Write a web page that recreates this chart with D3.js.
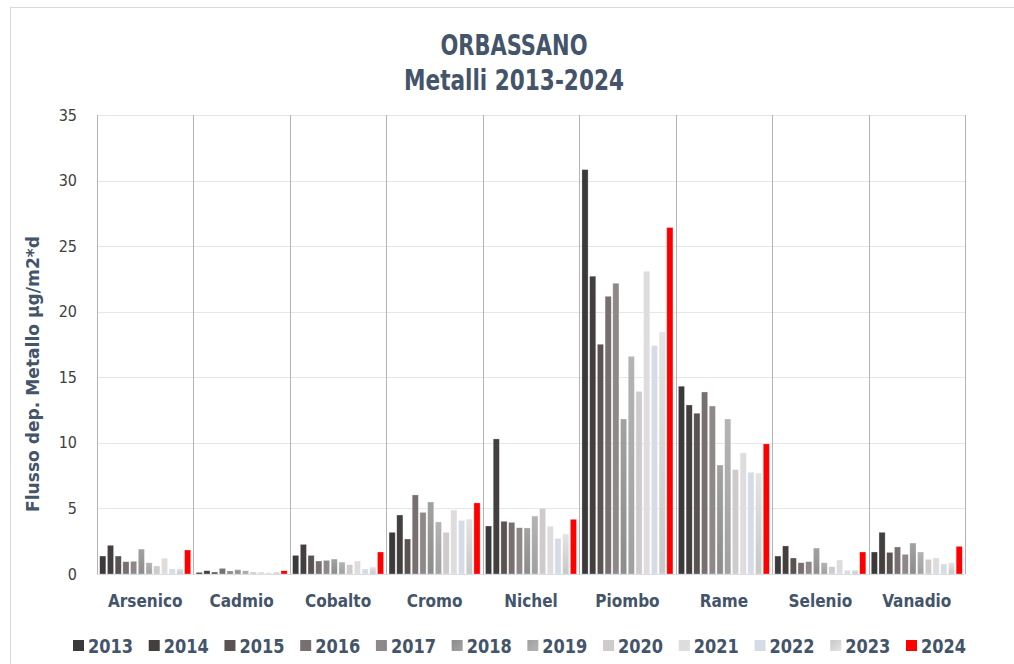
<!DOCTYPE html>
<html>
<head>
<meta charset="utf-8">
<script src="https://cdn.jsdelivr.net/npm/d3@7"></script>
<style>
  html, body { margin: 0; padding: 0; background: #fff; }
  svg { display: block; }
  .cond { font-family: "DejaVu Sans Condensed", "DejaVu Sans", sans-serif; }
</style>
</head>
<body>
<svg id="chart" width="1014" height="664"></svg>
<script>
// Metals categories and years
const categories = ["Arsenico", "Cadmio", "Cobalto", "Cromo", "Nichel", "Piombo", "Rame", "Selenio", "Vanadio"];
const years = ["2013", "2014", "2015", "2016", "2017", "2018", "2019", "2020", "2021", "2022", "2023", "2024"];
const yTicks = [0, 5, 10, 15, 20, 25, 30, 35];

// Deposition flux per year, one value per metal (same order as categories)
const v2013 = [1.37, 0.12, 1.42, 3.18, 3.66, 30.84, 14.32, 1.37, 1.68];
const v2014 = [2.19, 0.25, 2.26, 4.50, 10.30, 22.71, 12.89, 2.14, 3.18];
const v2015 = [1.37, 0.15, 1.42, 2.67, 4.02, 17.52, 12.26, 1.22, 1.65];
const v2016 = [0.94, 0.43, 0.99, 6.03, 3.94, 21.18, 13.88, 0.86, 2.06];
const v2017 = [0.97, 0.23, 1.04, 4.70, 3.53, 22.17, 12.81, 0.94, 1.50];
const v2018 = [1.90, 0.33, 1.14, 5.49, 3.51, 11.82, 8.31, 1.98, 2.36];
const v2019 = [0.86, 0.25, 0.91, 3.97, 4.42, 16.60, 11.82, 0.86, 1.68];
const v2020 = [0.61, 0.15, 0.71, 3.18, 5.01, 13.93, 7.96, 0.56, 1.12];
const v2021 = [1.20, 0.15, 0.99, 4.88, 3.64, 23.09, 9.23, 1.07, 1.22];
const v2022 = [0.38, 0.10, 0.38, 4.09, 2.72, 17.42, 7.76, 0.28, 0.76];
const v2023 = [0.40, 0.15, 0.53, 4.19, 3.05, 18.46, 7.70, 0.30, 0.86];
const v2024 = [1.83, 0.25, 1.68, 5.42, 4.17, 26.42, 9.92, 1.68, 2.11];

const seriesValues = [v2013, v2014, v2015, v2016, v2017, v2018, v2019, v2020, v2021, v2022, v2023, v2024];

// Fill per year: [top colour, bottom colour]
const seriesFill = [
  ["#3b3939", "#3b3939"],
  ["#433f3f", "#433f3f"],
  ["#5a5253", "#5a5253"],
  ["#787070", "#787070"],
  ["#8f8889", "#8f8889"],
  ["#a2a2a2", "#8c8c8c"],
  ["#b4b4b4", "#a0a0a0"],
  ["#d0cbcb", "#d0cbcb"],
  ["#dedcdc", "#dedcdc"],
  ["#d6dce6", "#d6dce6"],
  ["#e4e4e4", "#c8c8c8"],
  ["#ff0000", "#ff0000"]
];

const svg = d3.select("#chart");
const W = 1014, H = 664;
const margin = { left: 97, right: 49, top: 115, bottom: 90 };
const plotW = W - margin.left - margin.right;
const plotH = H - margin.top - margin.bottom;
const textColor = "#44546a";

// outer frame
svg.append("rect")
  .attr("x", 10.5).attr("y", 7.5)
  .attr("width", 1010).attr("height", 670)
  .attr("fill", "none").attr("stroke", "#d9d9d9");

// gradients
const defs = svg.append("defs");
seriesFill.forEach((c, i) => {
  const g = defs.append("linearGradient").attr("id", "grad" + i)
    .attr("x1", 0).attr("y1", 0).attr("x2", 0).attr("y2", 1);
  g.append("stop").attr("offset", "0%").attr("stop-color", c[0]);
  g.append("stop").attr("offset", "100%").attr("stop-color", c[1]);
  const gl = defs.append("linearGradient").attr("id", "gradL" + i)
    .attr("x1", 0).attr("y1", 0).attr("x2", 1).attr("y2", 1);
  gl.append("stop").attr("offset", "0%").attr("stop-color", c[1]);
  gl.append("stop").attr("offset", "100%").attr("stop-color", c[0]);
});

const x0 = d3.scaleBand().domain(categories).range([0, plotW]).padding(0);
const x1 = d3.scaleBand().domain(years).range([0, x0.bandwidth()]).paddingInner(0.2).paddingOuter(0.35);
const y = d3.scaleLinear().domain([0, 35]).range([plotH, 0]);

const g = svg.append("g").attr("transform", `translate(${margin.left},${margin.top})`);

// horizontal gridlines
g.append("g").selectAll("line").data(yTicks.filter(t => t > 0)).join("line")
  .attr("x1", 0).attr("x2", plotW)
  .attr("y1", d => Math.round(y(d)) + 0.5).attr("y2", d => Math.round(y(d)) + 0.5)
  .attr("stroke", "#e3e6ec").attr("stroke-width", 1);

// category separators
const seps = categories.map(c => x0(c)).concat([plotW]);
g.append("g").selectAll("line").data(seps).join("line")
  .attr("x1", d => Math.round(d) + 0.5).attr("x2", d => Math.round(d) + 0.5)
  .attr("y1", 0).attr("y2", plotH)
  .attr("stroke", "#b4b4b4").attr("stroke-width", 1);

// bars
const cat = g.append("g").selectAll("g").data(categories).join("g")
  .attr("transform", d => `translate(${x0(d)},0)`);
cat.selectAll("rect")
  .data((c, ci) => years.map((yr, i) => ({ yr, i, v: seriesValues[i][ci] })))
  .join("rect")
  .attr("x", d => x1(d.yr))
  .attr("width", x1.bandwidth())
  .attr("y", d => y(d.v))
  .attr("height", d => plotH - y(d.v))
  .attr("fill", d => `url(#grad${d.i})`)
  .attr("stroke", "#ffffff").attr("stroke-opacity", 0.5).attr("stroke-width", 0.6);

// baseline
g.append("line").attr("x1", 0).attr("x2", plotW)
  .attr("y1", plotH + 0.5).attr("y2", plotH + 0.5)
  .attr("stroke", "#d9dde4").attr("stroke-width", 1.2);

// y axis
const yAxis = g.append("g").call(d3.axisLeft(y).tickValues(yTicks).tickSize(0).tickPadding(20));
yAxis.select(".domain").remove();
yAxis.selectAll("text")
  .attr("class", "cond")
  .style("font-size", "16px").attr("fill", "#404040");

// x axis labels
const xAxis = g.append("g").attr("transform", `translate(0,${plotH})`)
  .call(d3.axisBottom(x0).tickSize(0).tickPadding(21));
xAxis.select(".domain").remove();
xAxis.selectAll("text")
  .attr("class", "cond")
  .style("font-size", "17px").style("font-weight", "bold").attr("fill", textColor);

// y axis title
svg.append("text")
  .attr("class", "cond")
  .attr("transform", `translate(39,374) rotate(-90)`)
  .attr("text-anchor", "middle")
  .attr("textLength", 276).attr("lengthAdjust", "spacingAndGlyphs")
  .style("font-size", "18px").style("font-weight", "bold").attr("fill", textColor)
  .text("Flusso dep. Metallo µg/m2*d");

// title
const titleLines = [
  { text: "ORBASSANO", y: 55, len: 147 },
  { text: "Metalli 2013-2024", y: 90, len: 220 }
];
svg.append("g").selectAll("text").data(titleLines).join("text")
  .attr("class", "cond")
  .attr("x", 514).attr("y", d => d.y)
  .attr("text-anchor", "middle")
  .attr("textLength", d => d.len).attr("lengthAdjust", "spacingAndGlyphs")
  .style("font-size", "28px").style("font-weight", "bold").attr("fill", textColor)
  .text(d => d.text);

// legend
const legendX = d3.scalePoint().domain(years).range([73, 906]);
const lg = svg.append("g").selectAll("g").data(years).join("g")
  .attr("transform", d => `translate(${legendX(d)},640)`);
lg.append("rect").attr("width", 11).attr("height", 11)
  .attr("fill", (d, i) => `url(#gradL${i})`);
lg.append("text").attr("class", "cond")
  .attr("x", 15).attr("y", 13)
  .attr("textLength", 45).attr("lengthAdjust", "spacingAndGlyphs")
  .style("font-size", "19px").style("font-weight", "bold").attr("fill", textColor)
  .text(d => d);
</script>
</body>
</html>
